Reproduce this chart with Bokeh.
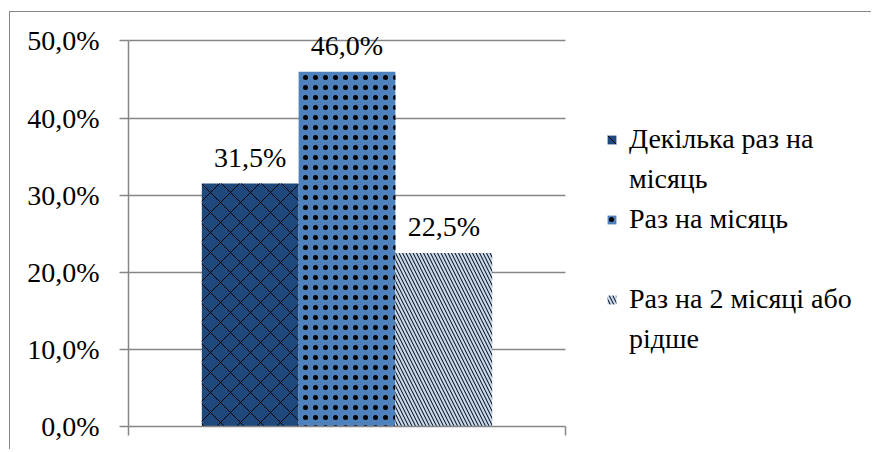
from bokeh.plotting import figure
from bokeh.models import (ColumnDataSource, Legend, LegendItem, FixedTicker,
                          Range1d, LabelSet)
from bokeh.core.properties import value
from bokeh.embed import file_html
from bokeh.resources import INLINE

categories = ["Декілька раз на\nмісяць", "Раз на місяць", "Раз на 2 місяці або\nрідше"]
values = [31.5, 46.0, 22.5]
value_labels = ["31,5%", "46,0%", "22,5%"]
y_ticks = [0, 10, 20, 30, 40, 50]
y_tick_labels = ["0,0%", "10,0%", "20,0%", "30,0%", "40,0%", "50,0%"]

colors = ["#1F497D", "#4F81BD", "#C6D9F1"]
hatches = ["diagonal_cross", "dot", "left_diagonal_line"]
hatch_scales = [20, 10, 7]
hatch_weights = [1.0, 1.3, 1.0]

bar_w = 0.2215
xs = [0.5 + (i - 1) * bar_w for i in range(len(values))]

src = ColumnDataSource(dict(x=xs, top=values, color=colors, hatch=hatches,
                            hs=hatch_scales, hw=hatch_weights, lab=value_labels))

FONT = "Liberation Serif"
ANN_FONT = "Times New Roman"
GRAY = "#868686"
PLOT_W = 862
LEFT = 118
UNIT_PX = 437  # pixels for the single category band (x from 0 to 1)

p = figure(width=PLOT_W, height=438, output_backend="svg", toolbar_location=None,
           x_range=Range1d(0, (PLOT_W - LEFT) / UNIT_PX), y_range=Range1d(0, 52),
           min_border_left=LEFT, min_border_right=0, min_border_top=13,
           min_border_bottom=24)
p.margin = (11, 0, 0, 9)
p.styles = {"border-left": "1.5px solid #868686", "border-top": "1.5px solid #868686"}
p.outline_line_color = None
p.background_fill_color = "white"
p.border_fill_color = "white"

r = p.vbar(x="x", top="top", bottom=0, width=bar_w, source=src,
           fill_color="color", line_color=None,
           hatch_pattern="hatch", hatch_color="black",
           hatch_scale="hs", hatch_weight="hw")
blank = p.vbar(x=[], top=[], width=0.1, fill_alpha=0, line_alpha=0)

# axes
p.yaxis.ticker = FixedTicker(ticks=y_ticks)
p.yaxis.bounds = (0, 50)
p.yaxis.major_label_overrides = {t: l for t, l in zip(y_ticks, y_tick_labels)}
p.yaxis.major_label_text_font = FONT
p.yaxis.major_label_text_font_size = "28px"
p.yaxis.major_label_text_color = "black"
p.yaxis.axis_line_color = GRAY
p.yaxis.axis_line_width = 1.5
p.yaxis.major_tick_line_color = GRAY
p.yaxis.major_tick_line_width = 1.5
p.yaxis.major_tick_out = 9
p.yaxis.major_tick_in = 0
p.yaxis.minor_tick_line_color = None
p.yaxis.major_label_standoff = 20

p.xaxis.ticker = FixedTicker(ticks=[0, 1])
p.xaxis.bounds = (0, 1)
p.xaxis.major_label_text_color = None
p.xaxis.major_label_text_font_size = "1px"
p.xaxis.axis_line_color = GRAY
p.xaxis.axis_line_width = 1.5
p.xaxis.major_tick_line_color = GRAY
p.xaxis.major_tick_line_width = 1.5
p.xaxis.major_tick_out = 9
p.xaxis.major_tick_in = 0
p.xaxis.minor_tick_line_color = None

p.xgrid.grid_line_color = None
grid = p.ygrid[0]
if "cross_bounds" in grid.properties():
    grid.ticker = FixedTicker(ticks=y_ticks)
    grid.cross_bounds = (0, 1)
    grid.grid_line_color = GRAY
    grid.grid_line_width = 1.5
else:
    grid.grid_line_color = None
    p.segment(x0=[0] * len(y_ticks), x1=[1] * len(y_ticks), y0=y_ticks, y1=y_ticks,
              line_color=GRAY, line_width=1.5, level="underlay")

labels = LabelSet(x="x", y="top", text="lab", source=src, text_align="center",
                  text_baseline="bottom", y_offset=11, text_font=value(ANN_FONT),
                  text_font_size=value("28px"), text_color="black")
p.add_layout(labels)

# legend: one line per item; continuation lines use a transparent glyph
items = []
for i, c in enumerate(categories):
    parts = c.split("\n")
    items.append(LegendItem(label=parts[0], renderers=[r], index=i))
    for extra in parts[1:]:
        items.append(LegendItem(label=extra, renderers=[blank]))
    if len(parts) == 1:
        items.append(LegendItem(label=" ", renderers=[blank]))

legend = Legend(items=items, location=(478, 71), margin=0, padding=0,
                glyph_width=11, glyph_height=11, label_standoff=12,
                label_height=32, spacing=8,
                label_text_font=ANN_FONT, label_text_font_size="28px",
                label_text_color="black",
                border_line_color=None, background_fill_alpha=0)
p.add_layout(legend)

open("out.html", "w").write(file_html(p, INLINE))
